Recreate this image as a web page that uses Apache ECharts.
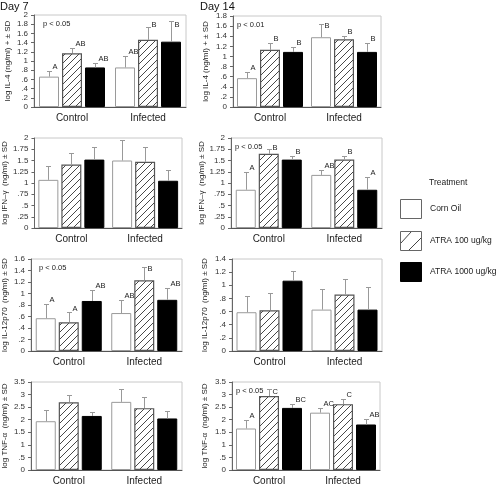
<!DOCTYPE html>
<html><head><meta charset="utf-8">
<script src="https://cdn.jsdelivr.net/npm/echarts@6/dist/echarts.min.js"></script>
<style>html,body{margin:0;padding:0;background:#fff}#c{width:497px;height:486px}</style>
</head><body><div id="c"></div>
<script>
// ---------- DATA ----------
const categories = ['Control', 'Infected'];
const treatments = ['Corn Oil', 'ATRA 100 ug/kg', 'ATRA 1000 ug/kg'];
const dayTitles = ['Day 7', 'Day 14'];
const legendTitle = 'Treatment';

// mean[treatment][category], sd[treatment][category]
const il4Day7Mean = [[0.66, 0.86], [1.17, 1.46], [0.86, 1.42]];
const il4Day7SD = [[0.13, 0.25], [0.11, 0.29], [0.09, 0.45]];
const il4Day7Letters = [['A', 'AB'], ['AB', 'B'], ['AB', 'B']];
const il4Day7P = 'p < 0.05';
const il4Day7Axis = [0, 2, 0.2];

const il4Day14Mean = [[0.57, 1.38], [1.13, 1.34], [1.09, 1.09]];
const il4Day14SD = [[0.12, 0.27], [0.13, 0.06], [0.09, 0.17]];
const il4Day14Letters = [['A', 'B'], ['B', 'B'], ['B', 'B']];
const il4Day14P = 'p < 0.01';
const il4Day14Axis = [0, 1.8, 0.2];

const ifnDay7Mean = [[1.07, 1.50], [1.41, 1.47], [1.52, 1.05]];
const ifnDay7SD = [[0.30, 0.46], [0.26, 0.33], [0.27, 0.25]];
const ifnDay7Axis = [0, 2, 0.25];

const ifnDay14Mean = [[0.85, 1.18], [1.65, 1.52], [1.52, 0.85]];
const ifnDay14SD = [[0.40, 0.11], [0.10, 0.08], [0.08, 0.29]];
const ifnDay14Letters = [['A', 'AB'], ['B', 'B'], ['B', 'A']];
const ifnDay14P = 'p < 0.05';
const ifnDay14Axis = [0, 2, 0.25];

const il12Day7Mean = [[0.57, 0.66], [0.50, 1.23], [0.87, 0.89]];
const il12Day7SD = [[0.24, 0.22], [0.17, 0.23], [0.19, 0.20]];
const il12Day7Letters = [['A', 'AB'], ['A', 'B'], ['AB', 'AB']];
const il12Day7P = 'p < 0.05';
const il12Day7Axis = [0, 1.6, 0.2];

const il12Day14Mean = [[0.59, 0.63], [0.62, 0.86], [1.07, 0.63]];
const il12Day14SD = [[0.24, 0.31], [0.27, 0.24], [0.15, 0.35]];
const il12Day14Axis = [0, 1.4, 0.2];

const tnfDay7Mean = [[1.94, 2.71], [2.69, 2.46], [2.15, 2.05]];
const tnfDay7SD = [[0.46, 0.50], [0.28, 0.44], [0.17, 0.31]];
const tnfDay7Axis = [0, 3.5, 0.5];

const tnfDay14Mean = [[1.65, 2.28], [2.94, 2.62], [2.47, 1.81]];
const tnfDay14SD = [[0.33, 0.19], [0.30, 0.19], [0.17, 0.22]];
const tnfDay14Letters = [['A', 'AC'], ['C', 'C'], ['BC', 'AB']];
const tnfDay14P = 'p < 0.05';
const tnfDay14Axis = [0, 3.5, 0.5];

const yNames = ['log IL-4 (ng/ml) + \u00b1 SD', 'log IFN\u2013\u03b3  (ng/ml) \u00b1 SD',
  'log IL-12p70  (ng/ml) \u00b1 SD', 'log TNF-\u03b1  (ng/ml) \u00b1 SD'];

// ---------- PANELS ----------
const panels = [
  {mean: il4Day7Mean, sd: il4Day7SD, letters: il4Day7Letters, p: il4Day7P, axis: il4Day7Axis, name: yNames[0]},
  {mean: il4Day14Mean, sd: il4Day14SD, letters: il4Day14Letters, p: il4Day14P, axis: il4Day14Axis, name: yNames[0]},
  {mean: ifnDay7Mean, sd: ifnDay7SD, letters: null, p: null, axis: ifnDay7Axis, name: yNames[1]},
  {mean: ifnDay14Mean, sd: ifnDay14SD, letters: ifnDay14Letters, p: ifnDay14P, axis: ifnDay14Axis, name: yNames[1]},
  {mean: il12Day7Mean, sd: il12Day7SD, letters: il12Day7Letters, p: il12Day7P, axis: il12Day7Axis, name: yNames[2]},
  {mean: il12Day14Mean, sd: il12Day14SD, letters: null, p: null, axis: il12Day14Axis, name: yNames[2]},
  {mean: tnfDay7Mean, sd: tnfDay7SD, letters: null, p: null, axis: tnfDay7Axis, name: yNames[3]},
  {mean: tnfDay14Mean, sd: tnfDay14SD, letters: tnfDay14Letters, p: tnfDay14P, axis: tnfDay14Axis, name: yNames[3]}
];

const layout = [
  {left: 34, top: 15, width: 152, height: 92},
  {left: 233, top: 16, width: 148, height: 91},
  {left: 32, top: 138, width: 150, height: 90},
  {left: 231, top: 138, width: 151, height: 90},
  {left: 30, top: 259, width: 152, height: 92},
  {left: 232, top: 259, width: 150, height: 92},
  {left: 30, top: 382, width: 152, height: 91},
  {left: 232, top: 382, width: 148, height: 91}
];

const FONT = '"Liberation Sans", Arial, Helvetica, sans-serif';
const BAR_W = 20, BAR_STEP = 23;

function hatch() {
  const s = 7, c = document.createElement('canvas');
  c.width = s; c.height = s;
  const g = c.getContext('2d');
  g.fillStyle = '#fff'; g.fillRect(0, 0, s, s);
  g.strokeStyle = '#333'; g.lineWidth = 0.9;
  g.beginPath();
  g.moveTo(-1, s + 1); g.lineTo(s + 1, -1);
  g.moveTo(-1, 1); g.lineTo(1, -1);
  g.moveTo(s - 1, s + 1); g.lineTo(s + 1, s - 1);
  g.stroke();
  return c;
}
const hatchImg = hatch();
const barStyles = [
  {color: '#fff', borderColor: '#9a9a9a', borderWidth: 1},
  {color: {image: hatchImg, repeat: 'repeat'}, borderColor: '#555', borderWidth: 1.2},
  {color: '#000', borderColor: '#000', borderWidth: 1}
];

function fmt(v) {
  let s = String(Math.round(v * 100) / 100);
  return s.replace(/^0\./, '.');
}

const grids = [], xAxes = [], yAxes = [], series = [], graphics = [];
panels.forEach((pn, p) => {
  const L = layout[p];
  const rightCol = p % 2 === 1;
  grids.push({left: L.left, top: L.top, width: L.width, height: L.height,
    show: true, borderColor: '#c8c8c8', borderWidth: 1, containLabel: false});
  xAxes.push({type: 'category', gridIndex: p, data: categories,
    axisTick: {show: false}, axisLine: {lineStyle: {color: '#555', width: 1}},
    axisLabel: {fontSize: 10, color: '#222', margin: 6, fontFamily: FONT}});
  yAxes.push({type: 'value', gridIndex: p, min: pn.axis[0], max: pn.axis[1], interval: pn.axis[2],
    name: pn.name, nameLocation: 'middle', nameGap: rightCol ? 23 : 22,
    nameTextStyle: {fontSize: 8, color: '#222', fontFamily: FONT},
    axisLine: {show: true, lineStyle: {color: '#666'}},
    axisTick: {show: true, length: 3, lineStyle: {color: '#666'}},
    splitLine: {show: false},
    axisLabel: {fontSize: 8, color: '#333', margin: 6, fontFamily: FONT, formatter: fmt}});
  treatments.forEach((tn, t) => {
    series.push({type: 'bar', name: tn, xAxisIndex: p, yAxisIndex: p, data: pn.mean[t],
      barWidth: BAR_W, barGap: '15%', itemStyle: barStyles[t], silent: true, animation: false});
  });
  treatments.forEach((tn, t) => {
    const letters = pn.letters ? pn.letters[t] : null;
    series.push({type: 'custom', xAxisIndex: p, yAxisIndex: p, silent: true, animation: false, z: 5,
      data: categories.map((c, i) => [i, pn.mean[t][i], pn.sd[t][i]]),
      renderItem: (params, api) => {
        const i = api.value(0), m = api.value(1), s = api.value(2);
        const b = api.coord([i, m]), tp = api.coord([i, m + s]);
        const x = Math.round(b[0] + (t - 1) * BAR_STEP) + 0.5;
        const ty = Math.round(tp[1]) + 0.5;
        const ch = [
          {type: 'line', shape: {x1: x, y1: b[1], x2: x, y2: ty}, style: {stroke: '#999', lineWidth: 1}},
          {type: 'line', shape: {x1: x - 2.5, y1: ty, x2: x + 2.5, y2: ty}, style: {stroke: '#999', lineWidth: 1}}
        ];
        if (letters) {
          const ly = Math.max(tp[1] - 4, L.top + 10);
          ch.push({type: 'text', x: x + 3, y: ly,
            style: {text: letters[params.dataIndex], fontSize: 7.5, fill: '#222', fontFamily: FONT,
              align: 'left', verticalAlign: 'middle'}});
        }
        return {type: 'group', children: ch};
      }});
  });
  if (pn.p) {
    graphics.push({type: 'text', left: L.left + (rightCol ? 4 : 9), top: L.top + 5,
      style: {text: pn.p, fontSize: 7.5, fill: '#222', fontFamily: FONT}});
  }
});

graphics.push({type: 'text', left: 0, top: 1, style: {text: dayTitles[0], fontSize: 11, fill: '#111', fontFamily: FONT}});
graphics.push({type: 'text', left: 200, top: 1, style: {text: dayTitles[1], fontSize: 11, fill: '#111', fontFamily: FONT}});

// legend
graphics.push({type: 'text', left: 429, top: 178, style: {text: legendTitle, fontSize: 8.5, fill: '#222', fontFamily: FONT}});
const legY = [199, 231, 262];
treatments.forEach((tn, t) => {
  const y = legY[t];
  graphics.push({type: 'rect', shape: {x: 400.5, y: y + 0.5, width: 21, height: 19},
    style: {fill: t === 2 ? '#000' : '#fff', stroke: t === 2 ? '#000' : '#666', lineWidth: 1}});
  if (t === 1) {
    graphics.push({type: 'line', shape: {x1: 401, y1: y + 12, x2: 411, y2: y + 1}, style: {stroke: '#444', lineWidth: 1}});
    graphics.push({type: 'line', shape: {x1: 409, y1: y + 19, x2: 421, y2: y + 7}, style: {stroke: '#444', lineWidth: 1}});
  }
  graphics.push({type: 'text', left: 430, top: y + 5, style: {text: tn, fontSize: 8.5, fill: '#222', fontFamily: FONT}});
});

const chart = echarts.init(document.getElementById('c'), null, {renderer: 'canvas'});
chart.setOption({
  animation: false,
  textStyle: {fontFamily: FONT},
  grid: grids, xAxis: xAxes, yAxis: yAxes, series: series, graphic: graphics
});
</script>
</body></html>
